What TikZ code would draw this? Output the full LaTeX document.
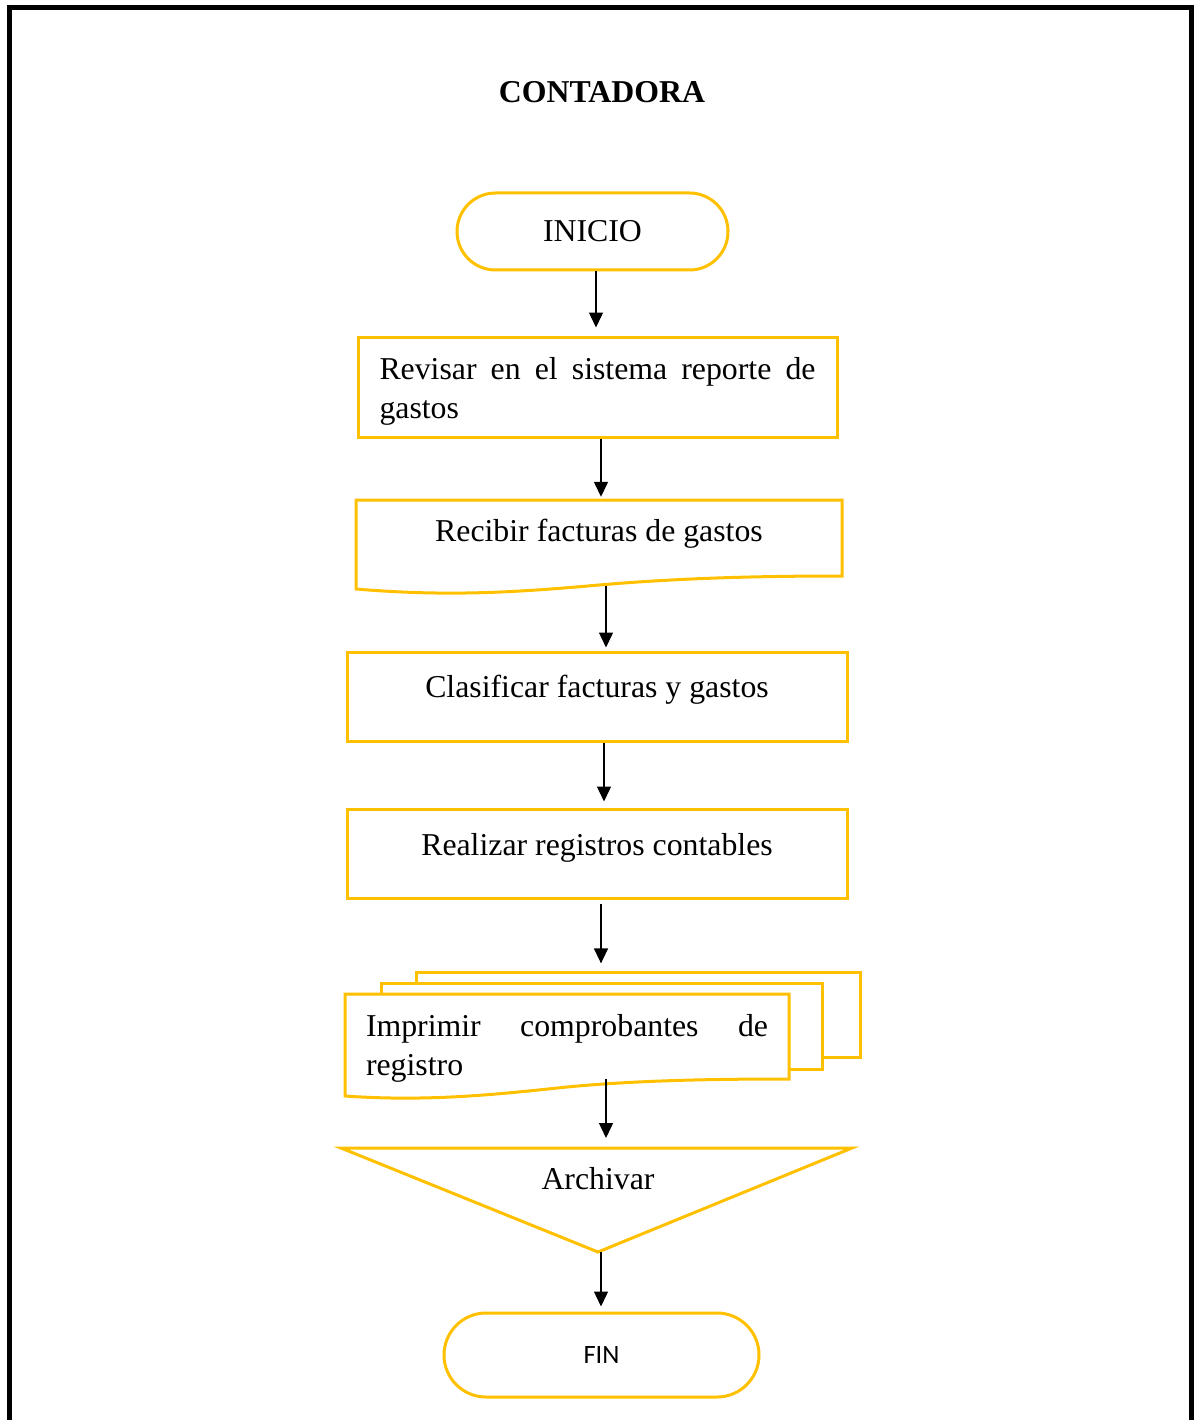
\documentclass[tikz,border=0pt]{standalone}
\usepackage{fontspec}
\setmainfont{Liberation Serif}
\newfontfamily\carlito{Carlito}
\usetikzlibrary{arrows.meta, shapes.misc}

\definecolor{amarillo}{HTML}{FFC000}
\newcommand{\letra}{\fontsize{31.8}{39}\selectfont}

\begin{document}
\hyphenpenalty=10000
\begin{tikzpicture}[x=1pt, y=-1pt,
        linea/.style={draw=amarillo, line width=3pt},
        terminal/.style={rounded rectangle, linea, fill=white, minimum width=271pt, minimum height=77pt, inner sep=0pt, font=\letra},
        proceso/.style={rectangle, linea, minimum width=500pt, minimum height=89pt, inner sep=0pt, font=\letra},
        cuerpo/.style={inner sep=0pt, font=\letra},
        flecha/.style={-{Triangle[length=15pt, width=14pt]}, line width=1.4pt}
    ]
        \useasboundingbox (0,0) rectangle (1193,1420);

        % Marco exterior (abierto por abajo)
        \draw[line width=5pt, line join=miter] (9.5,1430) -- (9.5,7.5) -- (1191,7.5) -- (1191,1430);

        \node[font=\letra\bfseries] (titulo) at (602,92) {CONTADORA};

        % Inicio y primer proceso
        \node[terminal] (inicio) at (592.5,231.5) {INICIO};
        \node[proceso, minimum width=479pt, minimum height=100pt, text width=436pt, align=justify] (revisar) at (597.5,387) {\rule{0pt}{30pt}Revisar en el sistema reporte de gastos};

        % Documento
        \draw[linea] (356,589) -- (356,500) -- (842,500) -- (842,576)
            .. controls (760,576) and (680,578) .. (599,585)
            .. controls (520,592) and (450,597) .. cycle;
        \node[cuerpo, minimum width=486pt, minimum height=76pt, text height=41pt, text depth=35pt] (recibir) at (599,538) {Recibir facturas de gastos};

        \node[proceso, text height=45pt, text depth=44pt] (clasificar) at (597,696.5) {Clasificar facturas y gastos};
        \node[proceso, text height=46pt, text depth=43pt] (realizar) at (597,853.5) {Realizar registros contables};

        % Multidocumento: dos hojas detras y la hoja del frente
        \draw[linea, fill=white] (416,972) rectangle (860,1057);
        \draw[linea, fill=white] (381,983) rectangle (822,1069);
        \draw[linea, fill=white] (345,1096) -- (345,994) -- (789,994) -- (789,1079)
            .. controls (720,1079) and (640,1080) .. (567,1087)
            .. controls (500,1094) and (430,1102) .. cycle;
        \node[cuerpo, minimum width=444pt, minimum height=85pt, text width=402pt, align=justify] (imprimir) at (567,1036.5) {\rule{0pt}{46pt}Imprimir comprobantes de registro};

        % Archivo (triangulo)
        \draw[linea] (341,1148) -- (852,1148) -- (598,1252) -- cycle;
        \coordinate (archivar-tope) at (598,1148);
        \coordinate (archivar-punta) at (598,1252);
        \node[cuerpo, anchor=base] (archivar) at (598,1189) {Archivar};

        \node[terminal, minimum width=315pt, minimum height=84pt, font=\carlito\fontsize{26.5}{32}\selectfont] (fin) at (601.5,1355) {FIN};

        % Flechas
        \draw[flecha, shorten >=8pt] (inicio.south -| 596,0) -- (revisar.north -| 596,0);
        \draw[flecha, shorten >=3pt] (revisar.south -| 601,0) -- (recibir.north -| 601,0);
        \draw[flecha, shorten <=10pt, shorten >=3pt] (recibir.south -| 606,0) -- (clasificar.north -| 606,0);
        \draw[flecha, shorten >=6pt] (clasificar.south -| 604,0) -- (realizar.north -| 604,0);
        \draw[flecha, shorten <=4pt, shorten >=27pt] (realizar.south -| 601,0) -- (imprimir.north -| 601,0);
        \draw[flecha, shorten <=-4pt, shorten >=10pt] (imprimir.south -| 606,0) -- (archivar-tope -| 606,0);
        \draw[flecha, shorten >=5pt] (archivar-punta -| 601,0) -- (fin.north -| 601,0);

    \end{tikzpicture}
\end{document}
